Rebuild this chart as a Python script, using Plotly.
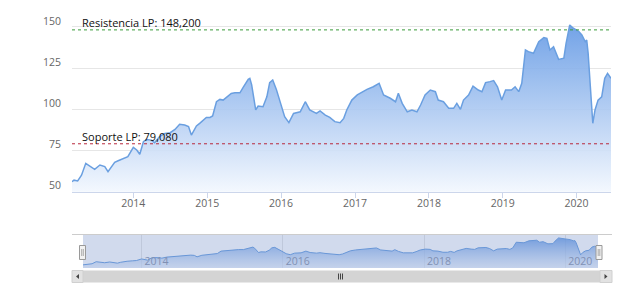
import plotly.graph_objects as go

# ---------------- data ----------------
dates = [
    "2013-03-04", "2013-03-14", "2013-04-01", "2013-04-20", "2013-05-11", "2013-05-30",
    "2013-06-24", "2013-07-20", "2013-08-13", "2013-08-29", "2013-09-15", "2013-10-01",
    "2013-10-18", "2013-11-14", "2013-12-05", "2014-01-01", "2014-01-18", "2014-02-02",
    "2014-02-20", "2014-03-07", "2014-04-01", "2014-04-16", "2014-05-11", "2014-06-06",
    "2014-07-02", "2014-07-26", "2014-08-18", "2014-09-12", "2014-10-01", "2014-10-15",
    "2014-11-09", "2014-11-25", "2014-12-13", "2014-12-28", "2015-01-15", "2015-01-28",
    "2015-02-16", "2015-03-05", "2015-03-21", "2015-04-09", "2015-04-30", "2015-05-18",
    "2015-06-12", "2015-06-28", "2015-07-23", "2015-07-31", "2015-08-09", "2015-08-29",
    "2015-09-10", "2015-10-04", "2015-10-23", "2015-11-06", "2015-11-21", "2015-12-09",
    "2015-12-24", "2016-01-19", "2016-02-09", "2016-03-03", "2016-04-05", "2016-04-30",
    "2016-05-22", "2016-06-24", "2016-07-12", "2016-08-07", "2016-08-29", "2016-09-23",
    "2016-10-19", "2016-11-06", "2016-11-21", "2016-12-16", "2017-01-12", "2017-02-06",
    "2017-03-01", "2017-04-01", "2017-04-30", "2017-05-22", "2017-06-24", "2017-07-20",
    "2017-08-03", "2017-08-22", "2017-09-16", "2017-10-09", "2017-11-03", "2017-11-21",
    "2017-12-13", "2018-01-08", "2018-02-02", "2018-02-16", "2018-03-14", "2018-04-09",
    "2018-05-03", "2018-05-19", "2018-06-06", "2018-06-21", "2018-07-16", "2018-08-07",
    "2018-09-02", "2018-09-20", "2018-10-08", "2018-10-30", "2018-11-17", "2018-12-06",
    "2018-12-27", "2019-01-15", "2019-02-13", "2019-03-03", "2019-03-21", "2019-04-05",
    "2019-04-23", "2019-05-08", "2019-06-02", "2019-06-28", "2019-07-23", "2019-08-07",
    "2019-08-22", "2019-09-09", "2019-10-04", "2019-10-30", "2019-11-10", "2019-11-28",
    "2019-12-16", "2020-01-12", "2020-01-27", "2020-02-13", "2020-02-20", "2020-02-27",
    "2020-03-21", "2020-04-01", "2020-04-16", "2020-05-04", "2020-05-19", "2020-06-02",
    "2020-06-19",
]
prices = [
    56.1, 57.0, 56.5, 60.0, 67.2, 65.6,
    63.6, 66.2, 65.2, 62.1, 65.2, 67.8,
    68.8, 70.3, 71.3, 76.9, 75.3, 72.7,
    80.3, 81.7, 81.3, 79.7, 83.4, 85.4,
    85.8, 87.8, 90.9, 90.5, 89.5, 84.4,
    89.9, 91.5, 93.5, 95.1, 95.1, 96.0,
    104.6, 106.0, 105.6, 107.6, 109.6, 110.0,
    110.0, 113.3, 118.2, 118.8, 114.8, 99.6,
    102.0, 101.6, 107.6, 116.2, 117.8, 112.1,
    105.6, 95.5, 91.9, 97.5, 98.5, 104.6,
    99.6, 97.5, 99.0, 96.5, 95.1, 92.5,
    91.9, 94.5, 99.6, 105.6, 108.7, 110.7,
    112.1, 113.7, 115.8, 108.7, 106.7, 104.6,
    109.7, 103.6, 98.5, 99.6, 98.5, 102.6,
    108.7, 111.7, 110.7, 105.6, 104.6, 100.6,
    100.6, 103.6, 100.0, 105.6, 108.7, 114.1,
    111.7, 110.7, 116.2, 116.8, 117.4, 113.7,
    105.6, 111.7, 111.7, 113.7, 110.7, 115.8,
    136.0, 135.0, 134.0, 141.0, 143.5, 143.0,
    136.0, 138.0, 130.3, 131.0, 140.0, 151.2,
    149.2, 147.2, 145.1, 141.0, 142.0, 134.0,
    91.5, 99.6, 105.6, 107.6, 118.8, 121.8,
    118.8,
]
resistance = 148.2
support = 79.08
resistance_label = "Resistencia LP: 148,200"
support_label = "Soporte LP: 79,080"
y_ticks = [50, 75, 100, 125, 150]

# ---------------- geometry helpers (pixels -> paper) ----------------
W, H = 643, 283
def px(x):
    return x / W
def py(y):
    return 1 - y / H

LINE = "#6a9fe0"
FONT = "Open Sans"

fig = go.Figure()

fig.add_trace(go.Scatter(
    x=dates, y=prices, mode="lines",
    line=dict(color=LINE, width=1.5),
    fill="tozeroy",
    fillgradient=dict(type="vertical",
                      colorscale=[[0, "rgba(242,247,254,0.9)"], [1, "rgba(98,152,228,0.9)"]],
                      start=50, stop=152),
    xaxis="x", yaxis="y", hoverinfo="skip", showlegend=False,
))

fig.add_trace(go.Scatter(
    x=dates, y=prices, mode="lines",
    line=dict(color=LINE, width=1),
    fill="tozeroy",
    fillgradient=dict(type="vertical",
                      colorscale=[[0, "rgba(225,235,250,0.6)"], [1, "rgba(98,152,228,0.85)"]],
                      start=45, stop=152),
    xaxis="x2", yaxis="y2", hoverinfo="skip", showlegend=False,
))

xr = [dates[0], dates[-1]]

shapes = [
    dict(type="line", xref="x domain", yref="y", x0=0, x1=1, y0=resistance, y1=resistance,
         line=dict(color="#3a9a3a", width=1, dash="dot")),
    dict(type="line", xref="x domain", yref="y", x0=0, x1=1, y0=support, y1=support,
         line=dict(color="#b8283c", width=1, dash="dot")),
    dict(type="rect", xref="x2 domain", yref="y2 domain", x0=0, x1=1, y0=0, y1=1,
         fillcolor="rgba(102,133,194,0.3)", line=dict(width=0), layer="above"),
    dict(type="line", xref="paper", yref="paper", x0=px(72), x1=px(612), y0=py(234.5), y1=py(234.5),
         line=dict(color="#cccccc", width=1)),
    dict(type="rect", xref="paper", yref="paper", x0=px(72), x1=px(612), y0=py(282.5), y1=py(270.5),
         fillcolor="#d4d4d4", line=dict(width=0)),
    dict(type="rect", xref="paper", yref="paper", x0=px(72), x1=px(83), y0=py(282.5), y1=py(270.5),
         fillcolor="#e2e2e2", line=dict(color="#d0d0d0", width=1)),
    dict(type="rect", xref="paper", yref="paper", x0=px(600), x1=px(612), y0=py(282.5), y1=py(270.5),
         fillcolor="#e2e2e2", line=dict(color="#d0d0d0", width=1)),
    dict(type="path", xref="paper", yref="paper",
         path=f"M {px(76)} {py(276.5)} L {px(79)} {py(274)} L {px(79)} {py(279)} Z",
         fillcolor="#444444", line=dict(width=0)),
    dict(type="path", xref="paper", yref="paper",
         path=f"M {px(607.5)} {py(276.5)} L {px(604.5)} {py(274)} L {px(604.5)} {py(279)} Z",
         fillcolor="#444444", line=dict(width=0)),
]
for gx in (338.5, 340.5, 342.5):
    shapes.append(dict(type="line", xref="paper", yref="paper", x0=px(gx), x1=px(gx),
                       y0=py(273.5), y1=py(279.5), line=dict(color="#444444", width=1)))
for hx in (79.5, 596):
    shapes.append(dict(type="rect", xref="paper", yref="paper", x0=px(hx), x1=px(hx + 6),
                       y0=py(259.5), y1=py(245.5), fillcolor="#f2f2f2",
                       line=dict(color="#999999", width=1)))
    for gx in (hx + 2.2, hx + 3.8):
        shapes.append(dict(type="line", xref="paper", yref="paper", x0=px(gx), x1=px(gx),
                           y0=py(256), y1=py(249), line=dict(color="#999999", width=0.8)))

annotations = [
    dict(text=resistance_label, xref="paper", yref="y", x=px(80), y=resistance, xanchor="left",
         yanchor="middle", yshift=7, showarrow=False, font=dict(family=FONT, size=11, color="#111111")),
    dict(text=support_label, xref="paper", yref="y", x=px(80), y=support, xanchor="left",
         yanchor="middle", yshift=7, showarrow=False, font=dict(family=FONT, size=11, color="#111111")),
]

fig.update_layout(
    width=W, height=H,
    margin=dict(l=0, r=0, t=0, b=0, autoexpand=False),
    paper_bgcolor="white", plot_bgcolor="white",
    showlegend=False,
    font=dict(family=FONT, size=10.5, color="#666666"),
    shapes=shapes, annotations=annotations,
    xaxis=dict(domain=[px(72), px(611)], anchor="y", type="date", range=xr, automargin=False,
               dtick="M12", tick0="2014-01-01", tickformat="%Y",
               showgrid=False, zeroline=False, showline=True, linecolor="#ccd6eb", linewidth=1,
               ticks="outside", ticklen=5, tickcolor="#ccd6eb", ticklabelstandoff=-3,
               tickfont=dict(family=FONT, size=10.5, color="#666666"), fixedrange=True),
    yaxis=dict(domain=[py(191.7), py(20)], anchor="x", range=[50, 154.2], automargin=False,
               tickvals=y_ticks, showgrid=True, gridcolor="#e6e6e6", gridwidth=1,
               zeroline=False, showline=False, ticks="",
               ticklabelstandoff=10, ticklabelshift=-6,
               tickfont=dict(family=FONT, size=10.5, color="#666666"), fixedrange=True),
    xaxis2=dict(domain=[px(83), px(598)], anchor="y2", type="date", range=xr, automargin=False,
                dtick="M24", tick0="2014-01-01", tickformat="%Y",
                showgrid=True, gridcolor="#e6e6e6", zeroline=False, showline=False, ticks="",
                ticklabelposition="inside right", ticklabelstandoff=-5, ticklabelshift=3,
                tickfont=dict(family=FONT, size=10.5, color="#8c96ad"), fixedrange=True),
    yaxis2=dict(domain=[py(268), py(234)], anchor="x2", range=[45, 165], visible=False,
                automargin=False, fixedrange=True),
)

fig.write_html("out.html")
